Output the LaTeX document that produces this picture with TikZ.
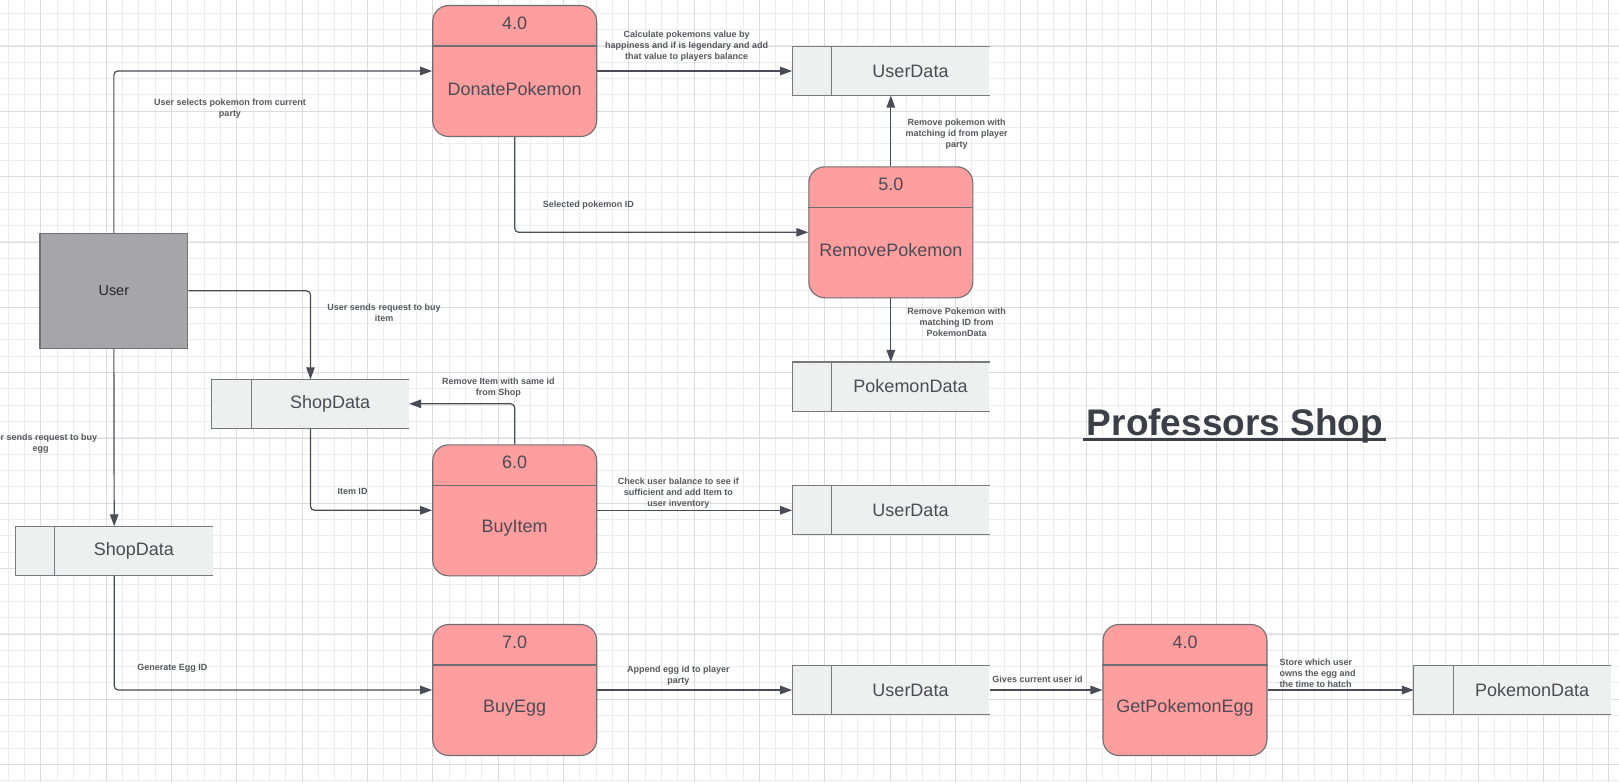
\documentclass[tikz,border=0pt]{standalone}
\usepackage{fontspec}
\setmainfont{Liberation Sans}
\usetikzlibrary{arrows.meta}
\definecolor{procfill}{HTML}{FF9E9E}
\definecolor{procline}{HTML}{6E6E73}
\definecolor{proctext}{HTML}{4B4B55}
\definecolor{storefill}{HTML}{EEF0EF}
\definecolor{storeline}{HTML}{7A7A7E}
\definecolor{flowc}{HTML}{474C55}
\definecolor{lblc}{HTML}{55595F}
\definecolor{gridminor}{HTML}{EDEDED}
\definecolor{gridmajor}{HTML}{DCDCDC}
\definecolor{userfill}{HTML}{A5A5AA}
\definecolor{userline}{HTML}{707075}
\definecolor{titlec}{HTML}{3A3F48}
\tikzset{
  proc/.style={draw=procline, line width=1.1pt, fill=procfill, rounded corners=16pt,
    minimum width=164pt, minimum height=131pt, inner sep=0pt},
  pline/.style={draw=procline, line width=1.1pt},
  ptext/.style={font=\fontsize{18}{20}\selectfont, text=proctext, inner sep=0pt},
  store/.style={fill=storefill, draw=none, minimum width=197pt, minimum height=48.7pt, inner sep=0pt},
  sline/.style={draw=storeline, line width=1.1pt},
  stext/.style={font=\fontsize{18}{20}\selectfont, text=proctext, inner sep=0pt},
  userbox/.style={draw=userline, line width=1.1pt, fill=userfill, minimum width=147.7pt,
    minimum height=115pt, inner sep=0pt, font=\fontsize{14.4}{16}\selectfont, text=black!85},
  flow/.style={draw=flowc, line width=1.2pt, rounded corners=4pt,
    -{Triangle[length=12pt,width=8.5pt]}},
  lbl/.style={font=\fontsize{9}{11}\selectfont\bfseries, text=lblc, align=center, inner sep=0pt},
  minorgrid/.style={draw=gridminor, line width=1pt},
  majorgrid/.style={draw=gridmajor, line width=1pt},
}
\newcommand{\storeedge}[1]{%
  \draw[sline] (#1.north east) -- (#1.north west) -- (#1.south west) -- (#1.south east);
  \draw[sline] ([xshift=39.4pt]#1.north west) -- ([xshift=39.4pt]#1.south west);}
\newcommand{\procdiv}[1]{%
  \draw[pline] ([yshift=-41pt]#1.north west) -- ([yshift=-41pt]#1.north east);}
\begin{document}
\begin{tikzpicture}[x=1pt,y=-1pt]
\useasboundingbox (0,0) rectangle (1619,782);
\fill[white] (0,0) rectangle (1619,782);
\clip (0,0) rectangle (1619,782);
% grid
\foreach \i in {0,...,99} \draw[minorgrid] ({8.03+16.333*\i},0) -- ++(0,782);
\foreach \j in {0,...,48} \draw[minorgrid] (0,{13.33+16.333*\j}) -- ++(1619,0);
\foreach \i in {0,...,24} \draw[majorgrid] ({40.7+65.333*\i},0) -- ++(0,782);
\foreach \j in {0,...,12} \draw[majorgrid] (0,{46+65.333*\j}) -- ++(1619,0);

% external entity
\node[userbox] (user) at (113.85,290.8) {User};

% processes
\node[proc] (don) at (514.7,71) {};
\node[proc] (rem) at (890.8,232.3) {};
\node[proc] (buy) at (514.7,510.3) {};
\node[proc] (egg) at (514.7,690) {};
\node[proc] (gpe) at (1185,690) {};
\foreach \p in {don,rem,buy,egg,gpe} {\procdiv{\p}}
\node[ptext] (don-n) at ([yshift=-18.5pt]don.north) {4.0};
\node[ptext] (don-t) at ([yshift=-84pt]don.north) {DonatePokemon};
\node[ptext] (rem-n) at ([yshift=-18.5pt]rem.north) {5.0};
\node[ptext] (rem-t) at ([yshift=-84pt]rem.north) {RemovePokemon};
\node[ptext] (buy-n) at ([yshift=-18.5pt]buy.north) {6.0};
\node[ptext] (buy-t) at ([yshift=-84pt]buy.north) {BuyItem};
\node[ptext] (egg-n) at ([yshift=-18.5pt]egg.north) {7.0};
\node[ptext] (egg-t) at ([yshift=-84pt]egg.north) {BuyEgg};
\node[ptext] (gpe-n) at ([yshift=-18.5pt]gpe.north) {4.0};
\node[ptext] (gpe-t) at ([yshift=-84pt]gpe.north) {GetPokemonEgg};

% data stores
\node[store] (ud1) at (890.8,71) {};
\node[store] (pd1) at (890.8,386.5) {};
\node[store] (ud2) at (890.8,510.3) {};
\node[store] (ud3) at (890.8,690) {};
\node[store] (sd1) at (310.5,403.8) {};
\node[store] (sd2) at (114.2,550.8) {};
\node[store] (pd2) at (1512.5,690) {};
\foreach \s in {ud1,pd1,ud2,ud3,sd1,sd2,pd2} {\storeedge{\s}}
\node[stext] (ud1-t) at ([xshift=19.7pt]ud1.center) {UserData};
\node[stext] (pd1-t) at ([xshift=19.7pt]pd1.center) {PokemonData};
\node[stext] (ud2-t) at ([xshift=19.7pt]ud2.center) {UserData};
\node[stext] (ud3-t) at ([xshift=19.7pt]ud3.center) {UserData};
\node[stext] (sd1-t) at ([xshift=19.7pt]sd1.center) {ShopData};
\node[stext] (sd2-t) at ([xshift=19.7pt]sd2.center) {ShopData};
\node[stext] (pd2-t) at ([xshift=19.7pt]pd2.center) {PokemonData};

% flows
\draw[flow] (user.north) |- (don.west);
\draw[flow] (don.east) -- (ud1.west);
\draw[flow] (don.south) |- (rem.west);
\draw[flow] (rem.north) -- (ud1.south);
\draw[flow] (rem.south) -- (pd1.north);
\draw[flow] (user.east) -| (sd1.north);
\draw[flow] (user.south) -- (sd2.north);
\draw[flow] (buy.north) |- (sd1.east);
\draw[flow] (sd1.south) |- (buy.west);
\draw[flow] (buy.east) -- (ud2.west);
\draw[flow] (sd2.south) |- (egg.west);
\draw[flow] (egg.east) -- (ud3.west);
\draw[flow] (ud3.east) -- (gpe.west);
\draw[flow] (gpe.east) -- (pd2.west);

% flow labels
\node[lbl] (l1) at (686.7,46.5) {Calculate pokemons value by\\happiness and if is legendary and add\\that value to players balance};
\node[lbl] (l2) at (230,108.2) {User selects pokemon from current\\party};
\node[lbl] (l3) at (956.7,133.7) {Remove pokemon with\\matching id from player\\party};
\node[lbl] (l4) at (588.3,205) {Selected pokemon ID};
\node[lbl] (l5) at (956.7,322.7) {Remove Pokemon with\\matching ID from\\PokemonData};
\node[lbl] (l6) at (384,313) {User sends request to buy\\item};
\node[lbl] (l7) at (40.7,443.8) {User sends request to buy\\egg};
\node[lbl] (l8) at (498.3,388) {Remove Item with same id\\from Shop};
\node[lbl] (l9) at (352.5,491.5) {Item ID};
\node[lbl] (l10) at (678.3,493.3) {Check user balance to see if\\sufficient and add Item to\\user inventory};
\node[lbl] (l11) at (172.3,668.7) {Generate Egg ID};
\node[lbl] (l12) at (678.3,675.7) {Append egg id to player\\party};
\node[lbl] (l13) at (1037.5,679.3) {Gives current user id};
\node[lbl, align=left, anchor=west] (l14) at (1279.3,673.7) {Store which user\\owns the egg and\\the time to hatch};

% title
\node[font=\fontsize{37}{40}\selectfont\bfseries, text=titlec, inner sep=0pt, anchor=base] (title) at (1235,435) {Professors Shop};
\draw[titlec, line width=3.3pt] ([xshift=-4pt,yshift=-4.5pt]title.base west) -- ([xshift=3pt,yshift=-4.5pt]title.base east);
\end{tikzpicture}
\end{document}
